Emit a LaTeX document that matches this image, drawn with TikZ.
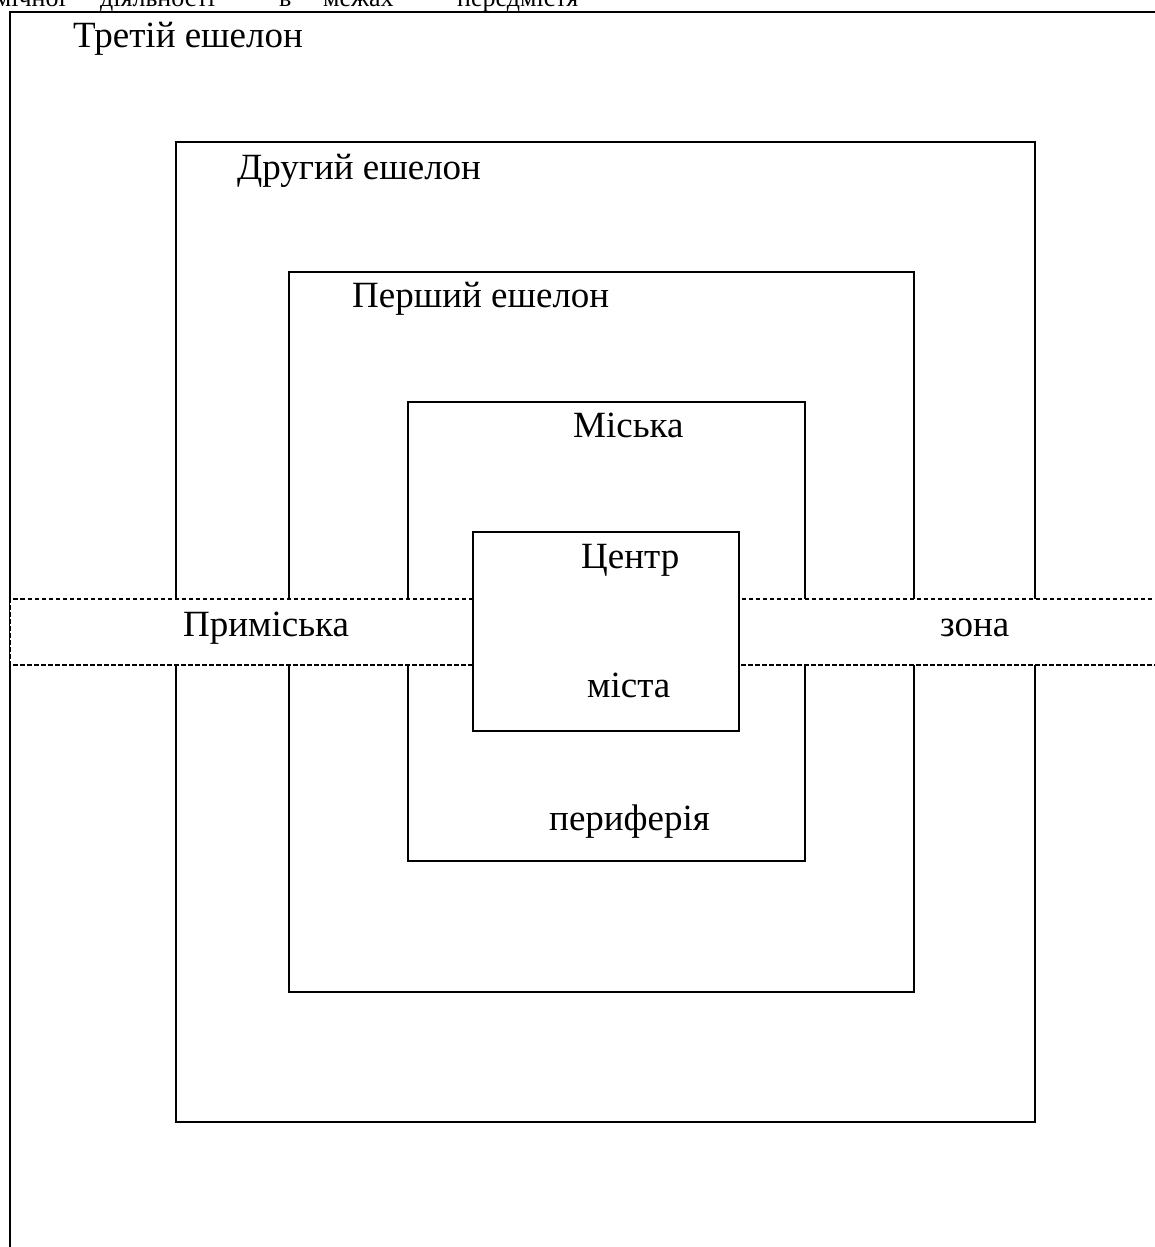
\documentclass[tikz,border=0pt]{standalone}
\usepackage{fontspec}
\setmainfont{Liberation Serif}
\begin{document}
\begin{tikzpicture}[x=1pt,y=-1pt,
  frame/.style={draw=black,line width=2.8pt},
  band/.style={draw=black,fill=white,line width=2.6pt,dash pattern=on 4.5pt off 2.5pt},
  lbl/.style={anchor=base west,inner sep=0pt,font=\fontsize{37pt}{44pt}\selectfont},
  toptxt/.style={anchor=base west,inner sep=0pt,font=\fontsize{26pt}{30pt}\selectfont}]
\useasboundingbox (0,0) rectangle (1155,1247);
\clip (0,0) rectangle (1155,1247);
\fill[white] (0,0) rectangle (1155,1247);
% clipped line of text at the top (cut off in the reference too)
\node[toptxt,anchor=base east] (w1) at (66,6.5) {економічної};
\node[toptxt] (w2) at (100,6.5) {діяльності};
\node[toptxt] (w3) at (279,6.5) {в};
\node[toptxt] (w4) at (323,6.5) {межах};
\node[toptxt] (w5) at (457,6.5) {передмістя};
% nested frames
\draw[frame] (10,12) rectangle (1180,1280);
\draw[frame] (176,142) rectangle (1035,1122);
\draw[frame] (289,272) rectangle (914,992);
\draw[frame] (408,402) rectangle (805,861);
% dashed band (suburban zone)
\draw[band] (1180,599) -- (10,599) -- (10,665) -- (1180,665);
% city centre
\draw[frame,fill=white] (473,532) rectangle (739,731);
% labels
\node[lbl] (t3) at (73,48) {Третій ешелон};
\node[lbl] (t2) at (237,179) {Другий ешелон};
\node[lbl] (t1) at (352,307) {Перший ешелон};
\node[lbl] (tm) at (573,437) {Міська};
\node[lbl] (tc) at (581,568) {Центр};
\node[lbl] (tp) at (183,636) {Приміська};
\node[lbl] (tz) at (940,636) {зона};
\node[lbl] (tmi) at (587,697) {міста};
\node[lbl] (tper) at (549,830) {периферія};
\end{tikzpicture}
\end{document}
